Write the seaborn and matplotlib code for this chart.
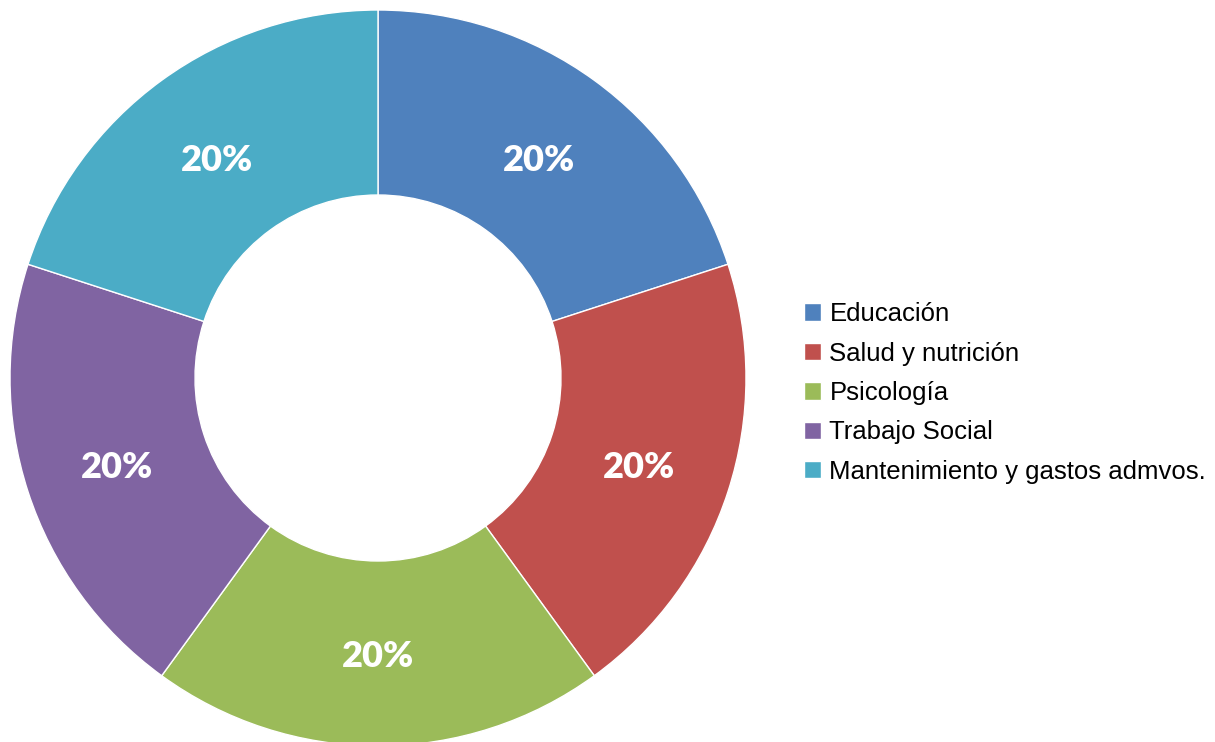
import seaborn as sns
import matplotlib.pyplot as plt
from matplotlib import font_manager

categories = ["Educación", "Salud y nutrición", "Psicología", "Trabajo Social",
              "Mantenimiento y gastos admvos."]
values = [20, 20, 20, 20, 20]
colors = ["#4F81BD", "#C0504D", "#9BBB59", "#8064A2", "#4BACC6"]

sns.set_theme(style="white")

names = {f.name for f in font_manager.fontManager.ttflist}
legend_font = "Liberation Sans Narrow" if "Liberation Sans Narrow" in names else "Liberation Sans"

W, H = 1215, 742
fig = plt.figure(figsize=(W / 100, H / 100), dpi=100)
ax = fig.add_axes([0, 0, 1, 1])

R = 368
wedges, texts, autotexts = ax.pie(
    values, colors=colors, startangle=90, counterclock=False,
    center=(378, H - 378), radius=R, frame=True,
    autopct=lambda p: f"{p:.0f}%", pctdistance=0.745,
    wedgeprops=dict(width=R - 183, edgecolor="white", linewidth=1),
    textprops=dict(color="white", fontsize=26, fontweight="heavy", family="Lato"),
)
# nudge the percentage labels down a little (Calibri-style centring)
for t in autotexts:
    x, y = t.get_position()
    t.set_position((x, y - 4.5))

ax.set_xlim(0, W)
ax.set_ylim(0, H)
ax.set_aspect("equal")
ax.axis("off")

leg = ax.legend(wedges, categories, loc="center left",
                bbox_to_anchor=(804 / W, 1 - 393 / H), frameon=False,
                prop=dict(family=legend_font, size=18.5), labelcolor="black",
                handlelength=0.66, handleheight=0.66, handletextpad=0.33,
                labelspacing=0.6, borderaxespad=0, borderpad=0)

fig.savefig("out.png", dpi=100)
